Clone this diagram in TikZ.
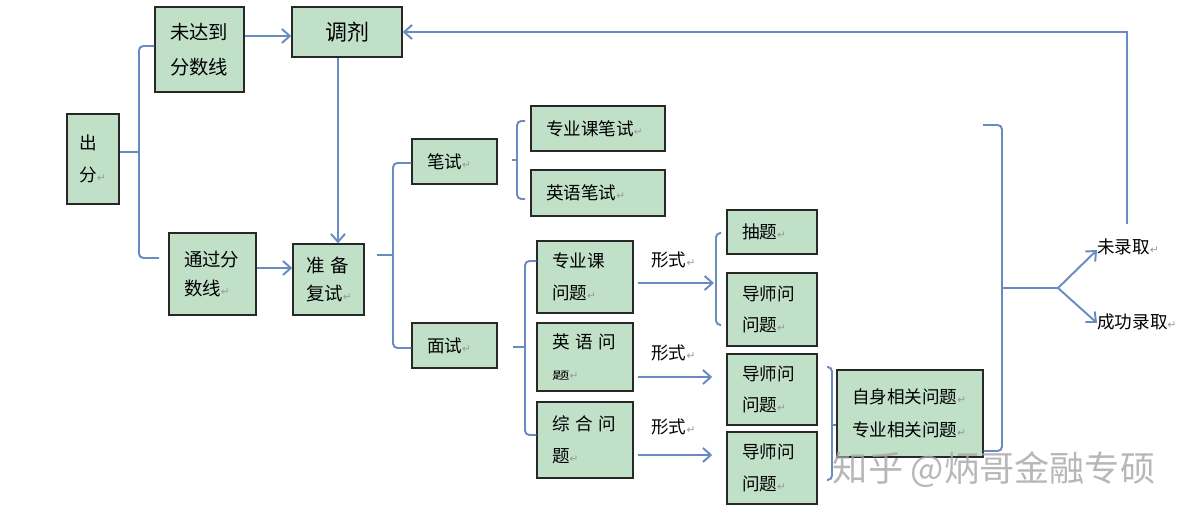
\documentclass[tikz,border=0pt]{standalone}
\usepackage{fontspec}
\usepackage{graphicx}
\setmainfont{Noto Sans CJK SC}
\newfontfamily\retfont{DejaVu Sans}
\usetikzlibrary{arrows.meta,calc}
\definecolor{boxgreen}{RGB}{193,224,200}
\definecolor{lineblue}{RGB}{104,140,192}
\definecolor{boxedge}{RGB}{40,40,40}
\newcommand\rmk{{\retfont\fontsize{6}{6}\selectfont\color{black!40}↵}}
\begin{document}
\begin{tikzpicture}[x=0.2mm,y=-0.2mm,
  bx/.style={draw=boxedge,line width=0.8pt,fill=boxgreen,inner xsep=3mm,inner ysep=0pt,align=left,font=\fontsize{10}{18}\selectfont},
  ln/.style={draw=lineblue,line width=1.1pt,rounded corners=2.5pt},
  arr/.style={draw=lineblue,line width=1.1pt,-{Straight Barb[length=4.5pt,width=8pt]}},
  lbl/.style={anchor=west,inner sep=0pt,font=\fontsize{10}{12}\selectfont}]
\fill[white] (0,0) rectangle (1186,518);
\useasboundingbox (0,0) rectangle (1186,518);

% boxes
\node[bx,text width=5.4mm,inner xsep=2.5mm,minimum height=18mm] (chufen) at (93,159) {出\\分\rmk};
\node[bx,text width=11.8mm,minimum height=17mm,font=\fontsize{11}{20}\selectfont] (weida) at (199.5,49.5) {未达到\\分数线};
\node[bx,minimum width=22mm,minimum height=10mm,inner xsep=0pt,align=center,font=\fontsize{12.5}{14}\selectfont] (tiaoji) at (347,32) {调剂};
\node[bx,text width=11.4mm,minimum height=16.4mm,font=\fontsize{10.5}{17}\selectfont] (tongguo) at (212.5,274) {通过分\\数线\rmk};
\node[bx,text width=9mm,inner xsep=2.6mm,minimum height=14.2mm,font=\fontsize{10.5}{16}\selectfont] (zhunbei) at (328.5,279.5) {准 备\\复试\rmk};
\node[bx,text width=11mm,minimum height=9mm] (bishi) at (454.5,161.5) {笔试\rmk};
\node[bx,text width=11mm,minimum height=9mm] (mianshi) at (454.5,345.5) {面试\rmk};
\node[bx,text width=20.8mm,minimum height=9mm] (zybs) at (598,128.5) {专业课笔试\rmk};
\node[bx,text width=20.8mm,minimum height=9.2mm] (yybs) at (598,193) {英语笔试\rmk};
\node[bx,text width=13.2mm,minimum height=14.4mm] (zykwt) at (585,277) {专业课\\问题\rmk};
\node[bx,text width=13.2mm,minimum height=13.6mm] (yywt) at (585,357) {英 语 问\\\scalebox{1}[0.6]{题}\rmk};
\node[bx,text width=13.2mm,minimum height=15.2mm] (zhwt) at (585,440) {综 合 问\\题\rmk};
\node[bx,text width=12mm,minimum height=8.8mm] (chouti) at (772,232) {抽题\rmk};
\node[bx,text width=12mm,minimum height=14.6mm] (ds1) at (772,309.5) {导师问\\问题\rmk};
\node[bx,text width=12mm,minimum height=14.2mm] (ds2) at (772,389.5) {导师问\\问题\rmk};
\node[bx,text width=12mm,minimum height=14.4mm] (ds3) at (772,468) {导师问\\问题\rmk};
\node[bx,text width=23.2mm,minimum height=17.4mm,font=\fontsize{10}{18.5}\selectfont] (zishen) at (910,413.5) {自身相关问题\rmk\\专业相关问题\rmk};

% labels
\node[lbl] (xs1) at (651,260) {形式\rmk};
\node[lbl] (xs2) at (651,353) {形式\rmk};
\node[lbl] (xs3) at (651,427) {形式\rmk};
\node[lbl] (weilu) at (1097,247) {未录取\rmk};
\node[lbl] (chenggong) at (1097,322) {成功录取\rmk};

% arrows
\draw[arr] (weida.east |- 0,36) -- (tiaoji.west |- 0,36);
\draw[arr] (tiaoji.south -| 338,0) -- (zhunbei.north -| 338,0);
\draw[arr] (tongguo.east |- 0,268) -- (zhunbei.west |- 0,268);
\coordinate (ret) at (1127,224);
\draw[arr] (ret) -- (1127,32) -- (tiaoji.east);

% braces
\draw[ln] (chufen.east |- 0,152) -- (139,152);
\draw[ln] (weida.west |- 0,46) -- (139,46) -- (139,258) -- (159,258);
\draw[ln] (377,255) -- (393,255);
\draw[ln] (bishi.west |- 0,163) -- (393,163) -- (393,348) -- (mianshi.west |- 0,348);
\draw[ln] (513,347) -- (525,347);
\draw[ln] (zykwt.west |- 0,261) -- (525,261) -- (525,435) -- (zhwt.west |- 0,435);
\draw[ln] (512,160) -- (517,160);
\draw[ln] (525,121) -- (517,121) -- (517,199) -- (525,199);
\draw[ln] (721,233) -- (716,233) -- (716,325) -- (721,325);
\draw[arr,shorten <=0.8mm] (zykwt.east |- 0,283) -- (714,283);
\draw[arr,shorten <=0.8mm,shorten >=2.8mm] (yywt.east |- 0,377) -- (ds2.west |- 0,377);
\draw[arr,shorten <=0.8mm,shorten >=2.8mm] (zhwt.east |- 0,455) -- (ds3.west |- 0,455);
\draw[ln] (827,367) -- (832,367) -- (832,480) -- (827,480);
\draw[ln] (832,425) -- (zishen.west |- 0,425);
\draw[ln] (983,125) -- (1002,125) -- (1002,451) -- (zishen.east |- 0,451);
\coordinate (fork) at (1058,288);
\draw[ln] (1002,288) -- (fork);
\draw[arr] (fork) -- (weilu.west |- 0,250);
\draw[arr] (fork) -- (chenggong.west |- 0,323);

% watermark
\node[text=black!35,opacity=0.8,font=\fontsize{20}{24}\selectfont,inner sep=0pt] (wm) at (994,470) {知乎 @炳哥金融专硕};
\end{tikzpicture}
\end{document}
